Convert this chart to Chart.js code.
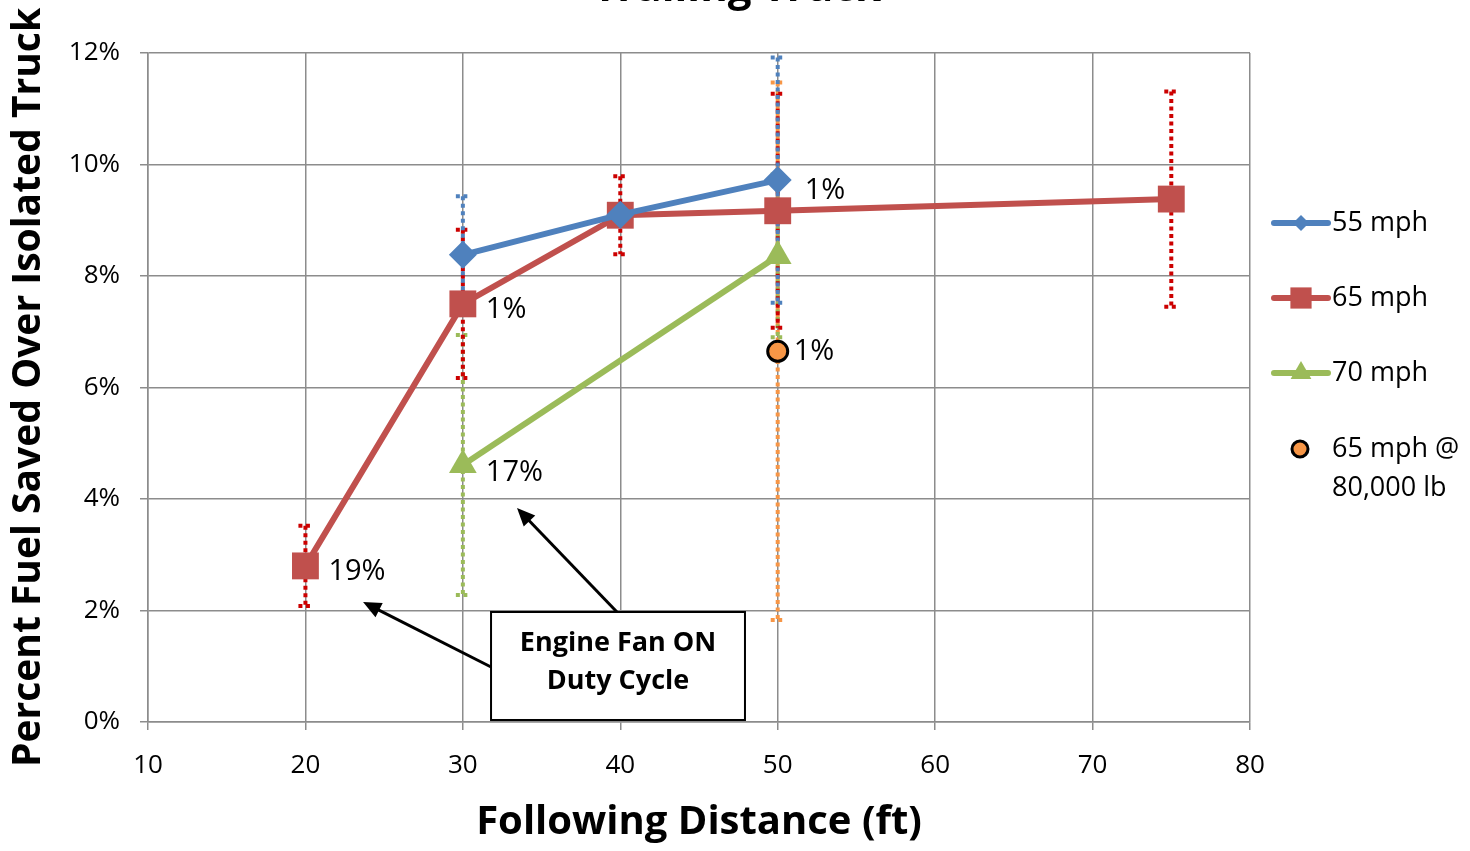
<!DOCTYPE html>
<html>
<head>
<meta charset="utf-8">
<script src="https://cdn.jsdelivr.net/npm/chart.js@4/dist/chart.umd.min.js"></script>
<style>
  html, body { margin: 0; padding: 0; background: #fff; }
  canvas { display: block; }
</style>
</head>
<body>
<canvas id="chart" width="1470" height="851"></canvas>
<script>
// following distance (ft) and percent fuel saved
var dist55 = [30, 40, 50];
var fuel55 = [8.38, 9.10, 9.72];
var err55 = [1.05, 0, 2.2];
var note55 = ['', '', '1%'];

var dist65 = [20, 30, 40, 50, 75];
var fuel65 = [2.80, 7.50, 9.09, 9.17, 9.38];
var err65 = [0.72, 1.33, 0.70, 2.10, 1.93];
var note65 = ['19%', '1%', '', '', ''];

var dist70 = [30, 50];
var fuel70 = [4.61, 8.36];
var err70 = [2.33, 1.46];
var note70 = ['17%', ''];

var distHeavy = [50];
var fuelHeavy = [6.65];
var errHeavy = [4.82];
var noteHeavy = ['1%'];

var xTicks = [10, 20, 30, 40, 50, 60, 70, 80];
var yTicks = [0, 2, 4, 6, 8, 10, 12];

var FONT = "'Open Sans', sans-serif";

function pts(xs, ys) {
    return xs.map(function (x, i) { return { x: x, y: ys[i] }; });
}

var blue = '#4F81BD', red = '#C0504D', green = '#9BBB59', orange = '#F79646';

var errorBars = [err55, err65, err70, errHeavy];
var errorColors = [blue, '#CC0000', green, orange];
var notes = [note55, note65, note70, noteHeavy];
var noteOffset = [[27, 11], [23, 6], [23, 8], [16, 0]];

// dotted error bars behind the series
var errorPlugin = {
    id: 'errorBars',
    beforeDatasetsDraw: function (chart) {
        var ctx = chart.ctx;
        var yScale = chart.scales.y;
        ctx.save();
        ctx.beginPath();
        ctx.rect(chart.chartArea.left, chart.chartArea.top - 2, chart.chartArea.width, chart.chartArea.height + 2);
        ctx.clip();
        // draw the big orange one first
        [3, 2, 1, 0].forEach(function (d) {
            var meta = chart.getDatasetMeta(d);
            var ds = chart.data.datasets[d];
            ctx.strokeStyle = errorColors[d];
            ctx.lineWidth = 4;
            ctx.setLineDash([4, 3.5]);
            meta.data.forEach(function (p, i) {
                var e = errorBars[d][i];
                if (!e) return;
                var v = ds.data[i].y;
                var top = yScale.getPixelForValue(v + e);
                var bot = yScale.getPixelForValue(v - e);
                ctx.beginPath();
                ctx.moveTo(p.x, top);
                ctx.lineTo(p.x, bot);
                ctx.moveTo(p.x - 7, top);
                ctx.lineTo(p.x + 7, top);
                ctx.moveTo(p.x - 7, bot);
                ctx.lineTo(p.x + 7, bot);
                ctx.stroke();
            });
        });
        ctx.restore();
    }
};

var notesPlugin = {
    id: 'notes',
    afterDatasetsDraw: function (chart) {
        var ctx = chart.ctx;
        var xs = chart.scales.x, ys = chart.scales.y;
        ctx.save();
        ctx.fillStyle = '#000';
        ctx.font = '29px ' + FONT;
        ctx.textAlign = 'left';
        ctx.textBaseline = 'middle';
        notes.forEach(function (list, d) {
            var meta = chart.getDatasetMeta(d);
            list.forEach(function (t, i) {
                if (!t) return;
                var p = meta.data[i];
                ctx.fillText(t, p.x + noteOffset[d][0], p.y + noteOffset[d][1]);
            });
        });

        // callout box and arrows
        var bx0 = xs.getPixelForValue(31.79), bx1 = xs.getPixelForValue(47.92);
        var by0 = ys.getPixelForValue(1.973), by1 = ys.getPixelForValue(0.036);
        function arrow(x0, y0, x1, y1) {
            var ax = xs.getPixelForValue(x0), ay = ys.getPixelForValue(y0);
            var bx = xs.getPixelForValue(x1), by = ys.getPixelForValue(y1);
            var ang = Math.atan2(by - ay, bx - ax);
            ctx.strokeStyle = '#000';
            ctx.lineWidth = 3;
            ctx.beginPath();
            ctx.moveTo(ax, ay);
            ctx.lineTo(bx - 10 * Math.cos(ang), by - 10 * Math.sin(ang));
            ctx.stroke();
            ctx.fillStyle = '#000';
            ctx.beginPath();
            ctx.moveTo(bx, by);
            ctx.lineTo(bx - 18 * Math.cos(ang) + 8 * Math.sin(ang), by - 18 * Math.sin(ang) - 8 * Math.cos(ang));
            ctx.lineTo(bx - 18 * Math.cos(ang) - 8 * Math.sin(ang), by - 18 * Math.sin(ang) + 8 * Math.cos(ang));
            ctx.closePath();
            ctx.fill();
        }
        arrow(31.79, 0.987, 23.66, 2.152);
        arrow(39.79, 1.973, 33.44, 3.839);

        ctx.fillStyle = '#fff';
        ctx.fillRect(bx0, by0, bx1 - bx0, by1 - by0);
        ctx.strokeStyle = '#000';
        ctx.lineWidth = 2;
        ctx.strokeRect(bx0, by0, bx1 - bx0, by1 - by0);
        ctx.fillStyle = '#000';
        ctx.font = 'bold 27px ' + FONT;
        ctx.textAlign = 'center';
        ctx.fillText('Engine Fan ON', (bx0 + bx1) / 2, by0 + 31);
        ctx.fillText('Duty Cycle', (bx0 + bx1) / 2, by0 + 69);

        // title, mostly cut off at the top edge
        ctx.font = 'bold 42px ' + FONT;
        ctx.textBaseline = 'alphabetic';
        ctx.fillText('Trailing Truck', chart.width / 2 + 2, 1);
        ctx.restore();
    }
};

// legend drawn by hand: line with marker
var legendPlugin = {
    id: 'sideLegend',
    afterDraw: function (chart) {
        var ctx = chart.ctx;
        var rows = [
            { y: 223, color: blue, style: 'rectRot', r: 8, text: ['55 mph'] },
            { y: 298, color: red, style: 'rect', r: 15, text: ['65 mph'] },
            { y: 373, color: green, style: 'triangle', r: 12, text: ['70 mph'] },
            { y: 449, color: orange, style: 'circle', r: 8, text: ['65 mph @', '80,000 lb'], noLine: true }
        ];
        ctx.save();
        rows.forEach(function (row) {
            if (!row.noLine) {
                ctx.strokeStyle = row.color;
                ctx.lineWidth = 6;
                ctx.lineCap = 'round';
                ctx.beginPath();
                ctx.moveTo(1274, row.y);
                ctx.lineTo(1328, row.y);
                ctx.stroke();
                ctx.fillStyle = row.color;
                ctx.strokeStyle = row.color;
                Chart.helpers.drawPoint(ctx, { pointStyle: row.style, radius: row.r, borderWidth: 0, rotation: 0 }, 1301, row.y);
            } else {
                ctx.fillStyle = row.color;
                ctx.strokeStyle = '#000';
                ctx.lineWidth = 3;
                Chart.helpers.drawPoint(ctx, { pointStyle: 'circle', radius: row.r, borderWidth: 3, rotation: 0 }, 1300, row.y);
            }
            ctx.fillStyle = '#000';
            ctx.font = '27px ' + FONT;
            ctx.textAlign = 'left';
            ctx.textBaseline = 'middle';
            row.text.forEach(function (t, k) {
                ctx.fillText(t, 1332, row.y + k * 39);
            });
        });
        ctx.restore();
    }
};

var ctx1 = document.getElementById('chart').getContext('2d');

var chart = new Chart(ctx1, {
    type: 'line',
    data: {
        datasets: [{
            label: '55 mph',
            data: pts(dist55, fuel55),
            borderColor: blue,
            backgroundColor: blue,
            borderWidth: 6,
            pointStyle: 'rectRot',
            pointRadius: 14,
            pointBorderWidth: 0
        }, {
            label: '65 mph',
            data: pts(dist65, fuel65),
            borderColor: red,
            backgroundColor: red,
            borderWidth: 6,
            pointStyle: 'rect',
            pointRadius: 19,
            pointBorderWidth: 0
        }, {
            label: '70 mph',
            data: pts(dist70, fuel70),
            borderColor: green,
            backgroundColor: green,
            borderWidth: 6,
            pointStyle: 'triangle',
            pointRadius: 16,
            pointBorderWidth: 0
        }, {
            label: '65 mph @ 80,000 lb',
            data: pts(distHeavy, fuelHeavy),
            showLine: false,
            borderColor: '#000',
            backgroundColor: orange,
            pointStyle: 'circle',
            pointRadius: 10,
            pointBorderWidth: 3
        }]
    },
    options: {
        responsive: false,
        animation: false,
        devicePixelRatio: 1,
        layout: { padding: { top: 53, right: 220, left: 0, bottom: 0 } },
        plugins: {
            legend: { display: false },
            tooltip: { enabled: false }
        },
        scales: {
            x: {
                type: 'linear',
                min: 10,
                max: 80,
                afterBuildTicks: function (s) { s.ticks = xTicks.map(function (v) { return { value: v }; }); },
                afterFit: function (s) { s.height = 129; },
                grid: { color: '#8c8c8c', lineWidth: 1.5, tickLength: 8 },
                border: { color: '#8c8c8c', width: 1.5 },
                ticks: { color: '#000', font: { family: FONT, size: 26 }, padding: 20, maxRotation: 0 },
                title: {
                    display: true,
                    text: 'Following Distance (ft)',
                    color: '#000',
                    font: { family: FONT, size: 40, weight: 'bold' },
                    padding: { top: 0, bottom: 4 }
                }
            },
            y: {
                min: 0,
                max: 12,
                afterBuildTicks: function (s) { s.ticks = yTicks.map(function (v) { return { value: v }; }); },
                afterFit: function (s) { s.width = 148; },
                grid: { color: '#8c8c8c', lineWidth: 1.5, tickLength: 8 },
                border: { color: '#8c8c8c', width: 1.5 },
                ticks: {
                    color: '#000',
                    font: { family: FONT, size: 26 },
                    padding: 20,
                    callback: function (v) { return v + '%'; }
                },
                title: {
                    display: true,
                    text: 'Percent Fuel Saved Over Isolated Truck',
                    color: '#000',
                    font: { family: FONT, size: 39, weight: 'bold' },
                    padding: { top: 5, bottom: 0 }
                }
            }
        }
    },
    plugins: [errorPlugin, notesPlugin, legendPlugin]
});
</script>
</body>
</html>
